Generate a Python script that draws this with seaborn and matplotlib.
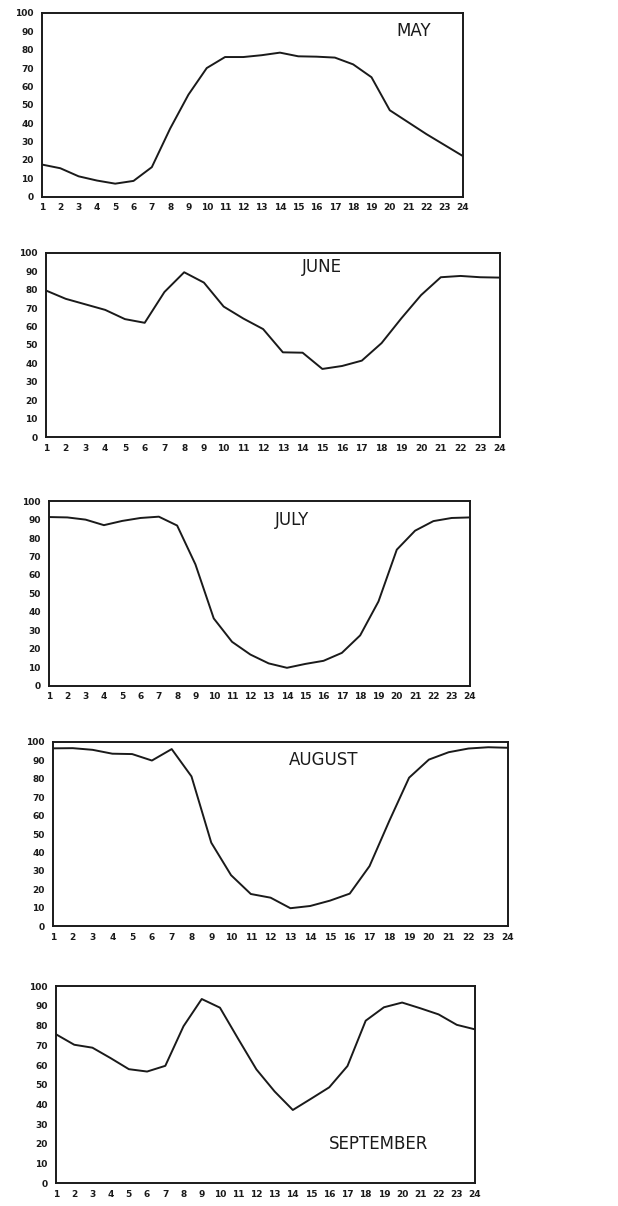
import matplotlib
matplotlib.use("Agg")
import matplotlib.pyplot as plt
import seaborn as sns
import pandas as pd

hours = list(range(1, 25))
hour_labels = [str(h) for h in hours]
y_ticks = [0, 10, 20, 30, 40, 50, 60, 70, 80, 90, 100]

may = [17.4, 15.4, 11, 8.7, 7, 8.5, 16, 37, 55.5, 70, 76, 76,
       77, 78.4, 76.4, 76.2, 75.7, 72, 65, 47, 40.5, 34, 28, 22]
june = [79.5, 75, 72, 69, 64, 62, 78.7, 89.4, 83.8, 70.8, 64.3, 58.6,
        46, 45.8, 37, 38.6, 41.5, 51, 64.4, 77, 86.7, 87.4, 86.7, 86.5]
july = [91.4, 91.2, 90, 87, 89.3, 90.9, 91.6, 86.8, 65.7, 36.4, 23.7, 16.8,
        12, 9.6, 11.7, 13.4, 17.7, 27.2, 45.6, 73.7, 84, 89.2, 90.9, 91.2]
august = [96.4, 96.5, 95.6, 93.5, 93.3, 89.8, 96, 81.2, 45.3, 27.7, 17.5, 15.5,
          9.8, 11, 13.9, 17.7, 32.6, 57.1, 80.5, 90.3, 94.3, 96.3, 97, 96.7]
september = [75.6, 70.3, 68.8, 63.5, 57.9, 56.7, 59.6, 79.7, 93.5, 89.1, 73.3, 57.8,
             46.6, 37.2, 42.9, 48.7, 59.5, 82.5, 89.3, 91.7, 88.8, 85.7, 80.4, 78.1]

months = ["MAY", "JUNE", "JULY", "AUGUST", "SEPTEMBER"]
series = [may, june, july, august, september]

sns.set_style("white")
plt.rcParams['font.family'] = ['DejaVu Sans']

W, H = 618, 1206
fig = plt.figure(figsize=(W / 100, H / 100), dpi=100)
fig.patch.set_facecolor("white")

# pixel boxes: (left, right, top, bottom)
boxes = [(42, 463, 13, 196.5),
         (46, 500, 252.7, 437.2),
         (49, 470, 501.2, 685.5),
         (53, 508, 741.7, 926.3),
         (56, 475, 986.2, 1183.3)]
title_pos = [(21.3, 90), (15.0, 92), (14.3, 90), (14.7, 90), (18.7, 20)]

ink = "#1a1a1a"
for name, vals, (l, r, t, b), (tx, ty) in zip(months, series, boxes, title_pos):
    ax = fig.add_axes([l / W, 1 - b / H, (r - l) / W, (b - t) / H])
    df = pd.DataFrame({"hour": hours, "value": vals})
    sns.lineplot(data=df, x="hour", y="value", ax=ax, color=ink, linewidth=1.4)
    ax.set_xlim(1, 24)
    ax.set_ylim(0, 100)
    ax.set_xticks(hours)
    ax.set_xticklabels(hour_labels, fontsize=6.5, fontweight="bold", color=ink)
    ax.set_yticks(y_ticks)
    ax.set_yticklabels([str(v) for v in y_ticks], fontsize=6.5, fontweight="bold", color=ink)
    ax.tick_params(axis="x", direction="in", length=3, width=1, pad=5, colors=ink,
                   labelcolor=ink)
    ax.tick_params(axis="y", direction="out", length=3, width=1, pad=3, colors=ink,
                   labelcolor=ink)
    ax.set_xlabel("")
    ax.set_ylabel("")
    for s in ax.spines.values():
        s.set_visible(True)
        s.set_linewidth(1.4)
        s.set_color(ink)
    ax.text(tx, ty, name, ha="center", va="center", fontsize=12,
            fontweight="normal", color=ink, family="DejaVu Sans")

fig.savefig("out.png", dpi=100, facecolor="white")
